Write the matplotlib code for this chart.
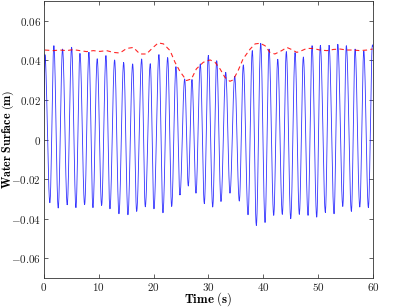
import numpy as np
import matplotlib
matplotlib.use("Agg")
import matplotlib.pyplot as plt

plt.rcParams['mathtext.fontset'] = 'cm'
plt.rcParams['font.family'] = 'cmr10'
plt.rcParams['axes.formatter.use_mathtext'] = True

# Blue record: crests and troughs (time s, elevation m)
crest_t = [0.18, 1.82, 3.40, 5.05, 6.57, 8.21, 9.72, 11.31, 12.89, 14.54, 16.18, 17.82,
           19.39, 20.97, 22.56, 24.07, 25.66, 26.99, 28.51, 29.97, 31.50, 33.14, 34.78,
           36.35, 37.99, 39.52, 41.04, 42.62, 44.19, 45.78, 47.29, 48.88, 50.39, 51.98,
           53.57, 55.13, 56.72, 58.31, 59.88]
crest_v = [0.0429, 0.0474, 0.0457, 0.0466, 0.0435, 0.0439, 0.0408, 0.0424, 0.0402, 0.0388,
           0.0382, 0.0407, 0.0383, 0.0429, 0.0414, 0.0368, 0.0306, 0.0303, 0.0382, 0.0424,
           0.0398, 0.0339, 0.0319, 0.0377, 0.0449, 0.0486, 0.0457, 0.0405, 0.0444, 0.0439,
           0.0417, 0.0474, 0.0476, 0.0474, 0.0481, 0.0474, 0.0457, 0.0445, 0.0478]
trough_t = [1.09, 2.61, 4.25, 5.84, 7.42, 8.94, 10.52, 12.04, 13.68, 15.32, 16.91, 18.48,
            20.06, 21.70, 23.29, 24.80, 26.32, 27.72, 29.24, 30.77, 32.28, 33.92, 35.62,
            37.21, 38.72, 40.31, 41.89, 43.46, 44.99, 46.56, 48.15, 49.73, 51.30, 52.89,
            54.48, 56.05, 57.58, 59.15]
trough_v = [-0.0319, -0.0346, -0.0329, -0.0344, -0.0329, -0.0344, -0.0333, -0.0350, -0.0375,
            -0.0380, -0.0363, -0.0340, -0.0350, -0.0370, -0.0338, -0.0279, -0.0235, -0.0271,
            -0.0324, -0.0341, -0.0313, -0.0271, -0.0311, -0.0380, -0.0434, -0.0419, -0.0383,
            -0.0378, -0.0400, -0.0378, -0.0383, -0.0392, -0.0367, -0.0375, -0.0338, -0.0363,
            -0.0341, -0.0344]
start_t, start_v = 0.0, 0.015
end_t, end_v = 60.0, 0.0470

# Red dashed envelope
env_t = [0.18, 1.7, 2.92, 4.13, 5.35, 6.57, 7.78, 9.0, 10.21, 11.43, 12.65, 13.86, 15.08,
         16.3, 17.5, 18.7, 19.9, 20.85, 21.8, 23.0, 23.9, 24.8, 26.0, 26.9, 27.8, 29.05,
         30.3, 31.2, 32.1, 33.0, 33.9, 34.5, 35.4, 36.3, 37.6, 38.5, 39.4, 40.3, 41.2,
         42.1, 43.35, 44.3, 45.2, 46.1, 47.0, 47.9, 49.1, 50.3, 51.6, 52.8, 54.0, 55.2,
         56.4, 57.6, 58.9, 59.9]
env_v = [0.0452, 0.0449, 0.0452, 0.0449, 0.0454, 0.0449, 0.0444, 0.0449, 0.0445, 0.0449,
         0.0440, 0.0437, 0.0460, 0.0465, 0.0432, 0.0432, 0.0465, 0.0488, 0.0483, 0.0449,
         0.0390, 0.0344, 0.0298, 0.0306, 0.0357, 0.0390, 0.0402, 0.0390, 0.0357, 0.0314,
         0.0294, 0.0301, 0.0348, 0.0407, 0.0457, 0.0483, 0.0486, 0.0474, 0.0440, 0.0432,
         0.0449, 0.0465, 0.0454, 0.0440, 0.0449, 0.0460, 0.0460, 0.0452, 0.0449, 0.0455,
         0.0457, 0.0452, 0.0452, 0.0449, 0.0452, 0.0457]

x_ticks = [0, 10, 20, 30, 40, 50, 60]
y_ticks = [-0.06, -0.04, -0.02, 0, 0.02, 0.04, 0.06]
y_tick_labels = ['$-0.06$', '$-0.04$', '$-0.02$', '$0$', '$0.02$', '$0.04$', '$0.06$']

# merge extremes in time order
ext_t = [start_t]
ext_v = [start_v]
for i in range(len(crest_t)):
    ext_t.append(crest_t[i]); ext_v.append(crest_v[i])
    if i < len(trough_t):
        ext_t.append(trough_t[i]); ext_v.append(trough_v[i])
ext_t.append(end_t); ext_v.append(end_v)

# join successive extremes with half-cosine segments
xs, ys = [], []
for i in range(len(ext_t) - 1):
    s = np.linspace(0, 1, 25)
    w = 0.5 - 0.5 * np.cos(np.pi * s)
    xs.append(ext_t[i] + (ext_t[i + 1] - ext_t[i]) * s)
    ys.append(ext_v[i] + (ext_v[i + 1] - ext_v[i]) * w)
xs = np.concatenate(xs)
ys = np.concatenate(ys)

fig = plt.figure(figsize=(3.99, 3.07), dpi=100)
ax = fig.add_axes([0.110, 0.094, 0.825, 0.903])
ax.plot(xs, ys, color='#0000ff', lw=0.6, alpha=0.8)
ax.plot(env_t, env_v, color='red', lw=0.8, ls=(0, (4, 3)), alpha=0.85)

ax.set_xlim(0, 60)
ax.set_ylim(-0.07, 0.07)
ax.set_xticks(x_ticks)
ax.set_yticks(y_ticks)
ax.set_yticklabels(y_tick_labels)
ax.set_xticklabels(['$%d$' % v for v in x_ticks])
ax.tick_params(direction='in', top=True, right=True, labelsize=8.0, length=3, width=0.5,
               pad=2, colors='#222222')
for sp in ax.spines.values():
    sp.set_linewidth(0.6)
    sp.set_color('#333333')
ax.set_xlabel(r'$\mathbf{Time\ (s)}$', fontsize=9.2)
ax.set_ylabel(r'$\mathbf{Water\ Surface\ (m)}$', fontsize=8.6)
ax.xaxis.set_label_coords(0.5, -0.075)
ax.yaxis.set_label_coords(-0.108, 0.5)
ax.xaxis.label.set_va('center')
ax.yaxis.label.set_va('center')

fig.savefig('out.png', dpi=100)
